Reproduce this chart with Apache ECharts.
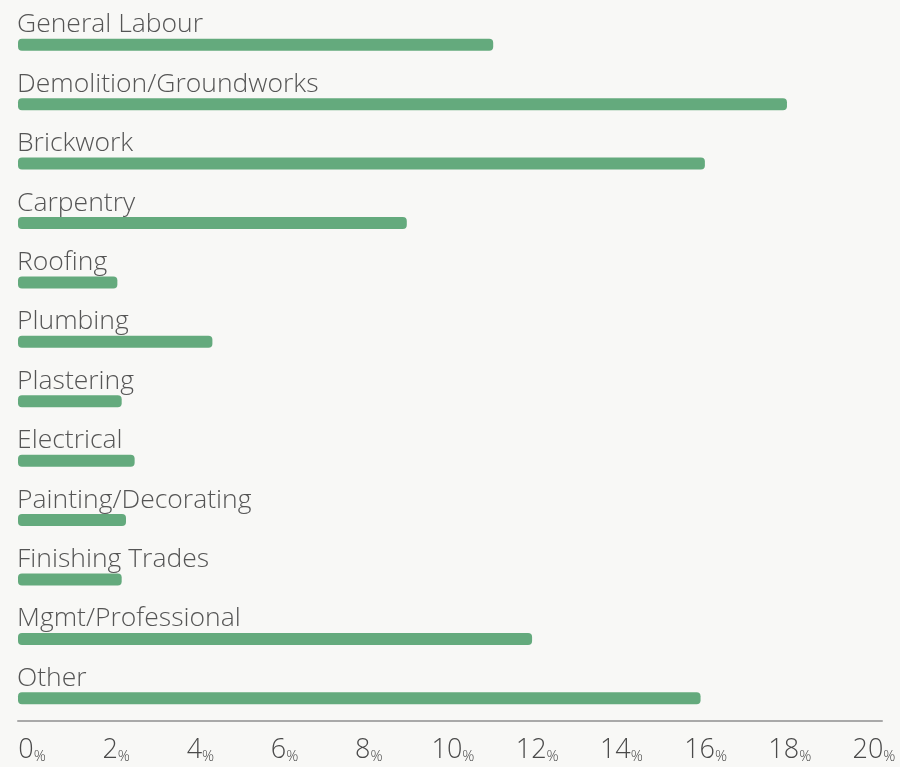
<!DOCTYPE html>
<html>
<head>
<meta charset="utf-8">
<script src="https://cdn.jsdelivr.net/npm/echarts@6/dist/echarts.min.js"></script>
<style>
  html, body { margin: 0; padding: 0; background: #f8f8f6; }
  #chart { width: 900px; height: 767px; }
</style>
</head>
<body>
<div id="chart"></div>
<script>
// Share of workforce by trade (%)
const categories = ['General Labour', 'Demolition/Groundworks', 'Brickwork', 'Carpentry', 'Roofing',
  'Plumbing', 'Plastering', 'Electrical', 'Painting/Decorating', 'Finishing Trades',
  'Mgmt/Professional', 'Other'];
const shares = [11.0, 17.8, 15.9, 9.0, 2.3, 4.5, 2.4, 2.7, 2.5, 2.4, 11.9, 15.8];
const axisMin = 0;
const axisMax = 20;
const axisStep = 2;

const FONT = '"Open Sans", Lato, sans-serif';
const chart = echarts.init(document.getElementById('chart'), null, { renderer: 'canvas' });

chart.setOption({
  backgroundColor: '#f8f8f6',
  animation: false,
  grid: [
    // bars
    { left: 18, right: 18, top: 15, height: 713 },
    // baseline
    { left: 18, right: 18, top: 15, bottom: 46 },
    // tick labels, spread edge to edge
    { left: 32, right: 26, top: 15, bottom: 46 }
  ],
  xAxis: [
    { gridIndex: 0, type: 'value', min: axisMin, max: axisMax, interval: axisStep, show: false },
    {
      gridIndex: 1, type: 'value', min: axisMin, max: axisMax, interval: axisStep,
      axisLine: { show: true, lineStyle: { color: '#a9a9a9', width: 2 } },
      axisTick: { show: false }, axisLabel: { show: false }, splitLine: { show: false }
    },
    {
      gridIndex: 2, type: 'value', min: axisMin, max: axisMax, interval: axisStep,
      axisLine: { show: false }, axisTick: { show: false }, splitLine: { show: false },
      axisLabel: {
        margin: 13,
        formatter: v => '{n|' + v + '}{p|%}',
        rich: {
          n: { fontFamily: FONT, fontSize: 27, fontWeight: 300, color: '#4a4a4a', verticalAlign: 'bottom', lineHeight: 30 },
          p: { fontFamily: FONT, fontSize: 15, fontWeight: 300, color: '#4a4a4a', verticalAlign: 'bottom', lineHeight: 25 }
        }
      }
    }
  ],
  yAxis: [
    { gridIndex: 0, type: 'category', data: categories, inverse: true, show: false },
    { gridIndex: 1, type: 'category', data: categories, inverse: true, show: false },
    { gridIndex: 2, type: 'category', data: categories, inverse: true, show: false }
  ],
  series: [{
    type: 'bar',
    xAxisIndex: 0,
    yAxisIndex: 0,
    data: shares,
    barWidth: 12,
    itemStyle: { color: '#64aa7d', borderRadius: 4 },
    label: {
      show: true,
      position: [-1, 2],
      align: 'left',
      verticalAlign: 'bottom',
      formatter: p => p.name,
      fontFamily: FONT,
      fontSize: 26.5,
      fontWeight: 300,
      lineHeight: 32,
      color: '#555555'
    }
  }]
});
</script>
</body>
</html>
